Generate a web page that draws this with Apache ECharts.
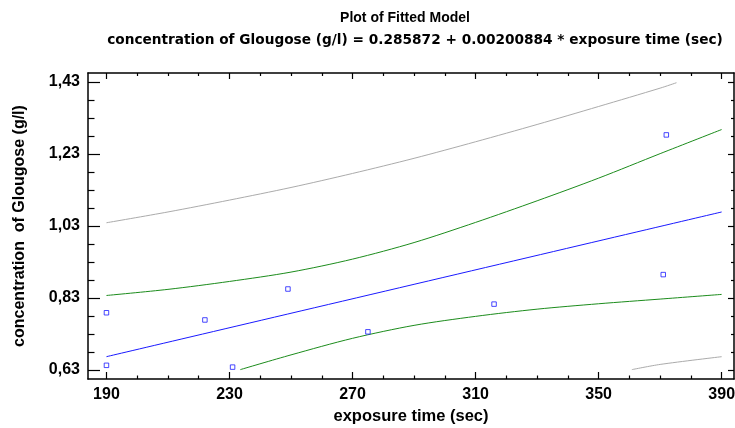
<!DOCTYPE html>
<html>
<head>
<meta charset="utf-8">
<script src="https://cdn.jsdelivr.net/npm/echarts@6/dist/echarts.min.js"></script>
<style>
  html, body { margin: 0; padding: 0; background: #fff; }
  #chart { width: 735px; height: 428px; }
</style>
</head>
<body>
<div id="chart"></div>
<script>
  // observed points (exposure time, concentration)
  var obsX = [190, 190, 222, 231, 249, 275, 316, 371, 372];
  var obsY = [0.789, 0.643, 0.769, 0.638, 0.855, 0.736, 0.813, 0.895, 1.283];

  // fitted line, read at both ends
  var fitX = [190, 390];
  var fitY = [0.667, 1.069];

  // confidence limits for the mean (green)
  var confUpX = [190, 210, 230, 250, 270, 290, 310, 330, 350, 370, 390];
  var confUpY = [0.837, 0.854, 0.876, 0.902, 0.938, 0.984, 1.040, 1.100, 1.163, 1.231, 1.298];
  var confLoX = [233.5, 250, 270, 290, 310, 330, 350, 370, 390];
  var confLoY = [0.631, 0.672, 0.718, 0.754, 0.779, 0.799, 0.814, 0.827, 0.840];

  // prediction limits (grey)
  var predUpX = [190, 210, 230, 250, 270, 290, 310, 330, 350, 370, 375.3];
  var predUpY = [1.039, 1.069, 1.102, 1.137, 1.176, 1.218, 1.264, 1.312, 1.362, 1.413, 1.428];
  var predLoX = [360.8, 370, 390];
  var predLoY = [0.631, 0.6455, 0.667];

  // ticks
  var xMajor = [190, 230, 270, 310, 350, 390];
  var xMinor = [200, 210, 220, 240, 250, 260, 280, 290, 300, 320, 330, 340, 360, 370, 380];
  var yMajor = [0.63, 0.83, 1.03, 1.23, 1.43];
  var yMinor = [0.68, 0.73, 0.78, 0.88, 0.93, 0.98, 1.08, 1.13, 1.18, 1.28, 1.33, 1.38];

  var font = 'Liberation Sans, Arial, sans-serif';

  function pairs(xs, ys) {
    return xs.map(function (x, i) { return [x, ys[i]]; });
  }

  // one axis = one side of the frame, with major or minor ticks
  function xAx(pos, ticks, len, showLine, label) {
    return {
      type: 'value', position: pos, min: 184, max: 394,
      axisLine: { show: showLine, onZero: false, lineStyle: { color: '#000', width: 1.5 } },
      axisTick: { show: true, inside: true, length: len, customValues: ticks,
        lineStyle: { color: '#000', width: 1.2 } },
      axisLabel: label ? {
        show: true, customValues: ticks, margin: 8,
        color: '#000', fontFamily: font, fontWeight: 'bold', fontSize: 16
      } : { show: false },
      splitLine: { show: false }
    };
  }
  function yAx(pos, ticks, len, showLine, label) {
    return {
      type: 'value', position: pos, min: 0.605, max: 1.455,
      axisLine: { show: showLine, onZero: false, lineStyle: { color: '#000', width: 1.5 } },
      axisTick: { show: true, inside: true, length: len, customValues: ticks,
        lineStyle: { color: '#000', width: 1.2 } },
      axisLabel: label ? {
        show: true, customValues: ticks, margin: 8,
        color: '#000', fontFamily: font, fontWeight: 'bold', fontSize: 16,
        formatter: function (v) { return v.toFixed(2).replace('.', ','); }
      } : { show: false },
      splitLine: { show: false }
    };
  }

  var xAxes = [
    xAx('bottom', xMajor, 7, true, true),
    xAx('bottom', xMinor, 3.5, false, false),
    xAx('top', xMajor, 6, true, false),
    xAx('top', xMinor, 3, false, false)
  ];
  xAxes[0].name = 'exposure time (sec)';
  xAxes[0].nameLocation = 'middle';
  xAxes[0].nameGap = 22;
  xAxes[0].nameTextStyle = { color: '#000', fontFamily: font, fontWeight: 'bold', fontSize: 16.5 };

  var yAxes = [
    yAx('left', yMajor, 12, true, true),
    yAx('left', yMinor, 6.5, false, false),
    yAx('right', yMajor, 6, true, false),
    yAx('right', yMinor, 3, false, false)
  ];
  yAxes[0].name = 'concentration  of Glougose (g/l)';
  yAxes[0].nameLocation = 'middle';
  yAxes[0].nameRotate = 90;
  yAxes[0].nameGap = 60;
  yAxes[0].nameTextStyle = { color: '#000', fontFamily: font, fontWeight: 'bold', fontSize: 16 };

  function line(name, data, color) {
    return {
      name: name, type: 'line', data: data, symbol: 'none', smooth: 0.3,
      lineStyle: { color: color, width: 1 }, z: 2
    };
  }

  var option = {
    animation: false,
    backgroundColor: '#fff',
    title: [
      { text: 'Plot of Fitted Model', left: 400, top: 6, textAlign: 'center',
        textStyle: { color: '#000', fontFamily: font, fontWeight: 'bold', fontSize: 14 } },
      { text: 'concentration of Glougose (g/l) = 0.285872 + 0.00200884 * exposure time (sec)',
        left: 410, top: 28, textAlign: 'center',
        textStyle: { color: '#000', fontFamily: 'DejaVu Sans', fontWeight: 'bold', fontSize: 13.7 } }
    ],
    grid: { left: 88, top: 73, right: 1, bottom: 49, containLabel: false, outerBoundsMode: 'none' },
    xAxis: xAxes,
    yAxis: yAxes,
    series: [
      line('upper prediction', pairs(predUpX, predUpY), '#ababab'),
      line('lower prediction', pairs(predLoX, predLoY), '#ababab'),
      line('upper confidence', pairs(confUpX, confUpY), '#1c8c1c'),
      line('lower confidence', pairs(confLoX, confLoY), '#1c8c1c'),
      line('fitted', pairs(fitX, fitY), '#1a1aff'),
      {
        name: 'observed', type: 'scatter', data: pairs(obsX, obsY),
        symbol: 'rect', symbolSize: 4.5, z: 3,
        itemStyle: { color: '#fff', borderColor: '#1a1aff', borderWidth: 1 }
      }
    ]
  };

  var chart = echarts.init(document.getElementById('chart'));
  chart.setOption(option);
</script>
</body>
</html>
